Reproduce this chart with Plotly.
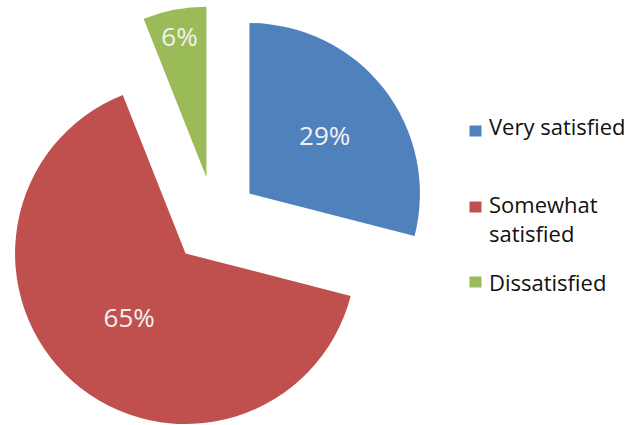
import plotly.graph_objects as go

# Survey satisfaction breakdown
categories = ["Very satisfied", "Somewhat satisfied", "Dissatisfied"]
legend_text = ["Very satisfied", "Somewhat<br>satisfied", "Dissatisfied"]
percentages = [29, 65, 6]
colors = ["#4F81BD", "#C0504D", "#9BBB59"]
pulls = [0.258, 0.258, 0.258]

W, H = 636, 435
M_TOP = 6


def px_x(x):
    return x / W


def px_y(y):
    return 1 - (y - M_TOP) / (H - M_TOP)


fig = go.Figure(
    go.Pie(
        labels=categories,
        values=percentages,
        sort=False,
        direction="clockwise",
        rotation=0,
        pull=pulls,
        marker=dict(colors=colors, line=dict(width=0)),
        texttemplate="%{value}%",
        textposition="inside",
        insidetextorientation="horizontal",
        textfont=dict(family="Open Sans", size=26, color="#F2F2F2"),
        hoverinfo="skip",
        showlegend=False,
        domain=dict(x=[0, 0.675], y=[0, 1]),
    )
)

# Legend: colour swatch plus label for each category
swatch_cy = [131, 207, 282]
label_cy = [125.5, 218.5, 281.5]
for col, txt, sy, ty in zip(colors, legend_text, swatch_cy, label_cy):
    fig.add_shape(
        type="rect",
        xref="paper", yref="paper",
        x0=px_x(469.5), x1=px_x(481.5),
        y0=px_y(sy + 5.5), y1=px_y(sy - 5.5),
        fillcolor=col, line=dict(width=0),
    )
    fig.add_annotation(
        xref="paper", yref="paper",
        x=px_x(487), y=px_y(ty),
        xanchor="left", yanchor="middle",
        text=txt, align="left", showarrow=False,
        font=dict(family="Open Sans", size=22, color="#111111"),
    )

fig.update_layout(
    width=W,
    height=H,
    margin=dict(l=0, r=0, t=M_TOP, b=0),
    paper_bgcolor="white",
    plot_bgcolor="white",
    uniformtext=dict(minsize=26, mode="show"),
    showlegend=False,
)

fig.write_html("out.html")
